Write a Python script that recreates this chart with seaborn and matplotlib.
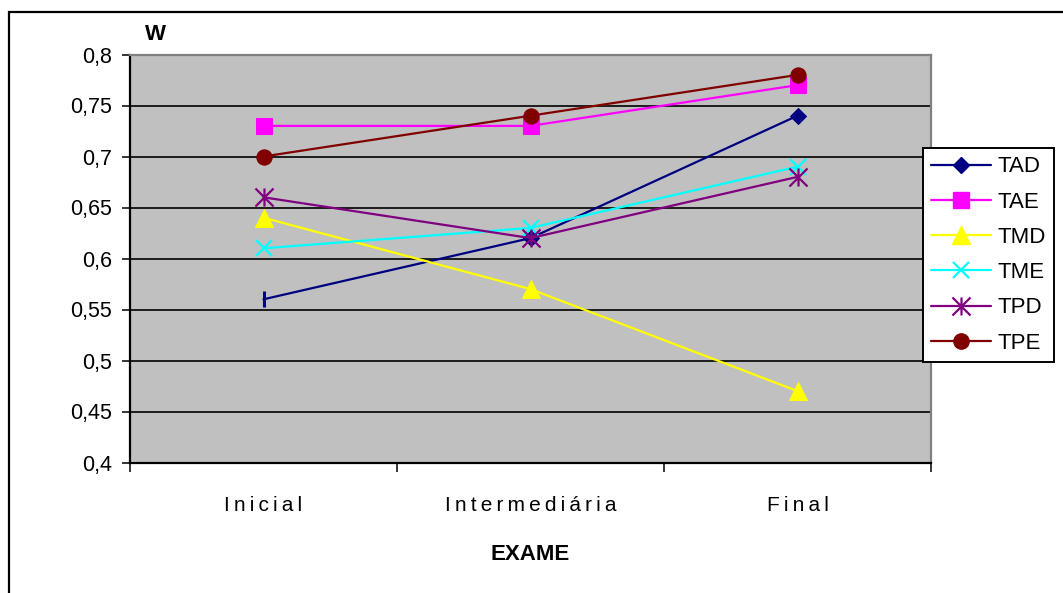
import matplotlib
matplotlib.use("Agg")
import matplotlib.pyplot as plt
import seaborn as sns
import numpy as np
from matplotlib.path import Path
from matplotlib.patches import Rectangle

# --- data -------------------------------------------------------------
exames = ["Inicial", "Intermediária", "Final"]
tad = [0.56, 0.62, 0.74]
tae = [0.73, 0.73, 0.77]
tmd = [0.64, 0.57, 0.47]
tme = [0.61, 0.63, 0.69]
tpd = [0.66, 0.62, 0.68]
tpe = [0.70, 0.74, 0.78]
series_names = ["TAD", "TAE", "TMD", "TME", "TPD", "TPE"]
y_ticks = [0.4, 0.45, 0.5, 0.55, 0.6, 0.65, 0.7, 0.75, 0.8]
y_tick_labels = ["0,4", "0,45", "0,5", "0,55", "0,6", "0,65", "0,7", "0,75", "0,8"]

# --- style ------------------------------------------------------------
sns.set_theme(style="white")
plt.rcParams["font.family"] = ["Liberation Sans", "DejaVu Sans"]
for key in ("text.color", "axes.labelcolor", "xtick.color", "ytick.color",
            "xtick.labelcolor", "ytick.labelcolor"):
    plt.rcParams[key] = "black"

W, H = 1063, 593
fig = plt.figure(figsize=(W / 100, H / 100), dpi=100)
fig.patch.set_facecolor("white")

# chart frame (runs off the right and bottom edges)
fig.patches.append(Rectangle((9 / W, -0.2), 2.0, 1 - 12 / H + 0.2,
                             transform=fig.transFigure, fill=False,
                             edgecolor="black", linewidth=1.6, zorder=0))

ax = fig.add_axes([130 / W, 1 - 462.5 / H, (931 - 130) / W, (462.5 - 54.5) / H])
ax.set_facecolor("#C0C0C0")

# horizontal gridlines (black), none on the top edge
for yv in y_ticks[1:-1]:
    ax.axhline(yv, color="black", linewidth=1.2, zorder=1)

star = Path([(-0.5, -0.5), (0.5, 0.5), (-0.5, 0.5), (0.5, -0.5), (0, -0.5), (0, 0.5)],
            [Path.MOVETO, Path.LINETO, Path.MOVETO, Path.LINETO, Path.MOVETO, Path.LINETO])

styles = {
    "TAD": dict(color="#000080", marker="D", markersize=8),
    "TAE": dict(color="#FF00FF", marker="s", markersize=12),
    "TMD": dict(color="#FFFF00", marker="^", markersize=13),
    "TME": dict(color="#00FFFF", marker="x", markersize=12, markeredgewidth=1.6),
    "TPD": dict(color="#800080", marker=star, markersize=13, markeredgewidth=1.6,
                markerfacecolor="none"),
    "TPE": dict(color="#800000", marker="o", markersize=11),
}
values = dict(zip(series_names, [tad, tae, tmd, tme, tpd, tpe]))
xpos = np.arange(len(exames))

handles = []
for name in series_names:
    st = styles[name]
    if name == "TAD":
        # first point drawn as a short vertical tick
        sns.lineplot(x=xpos, y=values[name], ax=ax, sort=False, color=st["color"],
                     linewidth=1.6, marker=st["marker"], markersize=st["markersize"],
                     markeredgecolor=st["color"], markevery=[1, 2], zorder=3)
        ax.plot(xpos[:1], values[name][:1], linestyle="none", marker="|",
                markersize=12, markeredgewidth=2.2, color=st["color"], zorder=3)
    else:
        sns.lineplot(x=xpos, y=values[name], ax=ax, sort=False, linewidth=1.6,
                     zorder=3, markeredgecolor=st["color"], **st)
    handles.append(plt.Line2D([], [], linewidth=1.6, markeredgecolor=st["color"], **st))

ax.set_xlim(-0.5, 2.5)
ax.set_ylim(0.4, 0.8)

# axis spines
for side in ("left", "bottom"):
    ax.spines[side].set_color("black")
    ax.spines[side].set_linewidth(1.6)
for side in ("top", "right"):
    ax.spines[side].set_color("#808080")
    ax.spines[side].set_linewidth(1.6)

ax.set_yticks(y_ticks)
ax.set_yticklabels(y_tick_labels, fontsize=15.5)
ax.tick_params(axis="y", direction="out", length=6, width=1.1, color="black",
               pad=7, left=True)

# category boundaries carry the tick marks, centres carry the labels
ax.set_xticks([-0.5, 0.5, 1.5, 2.5])
ax.set_xticklabels([])
ax.tick_params(axis="x", which="major", direction="out", length=6.5, width=1.1,
               color="black", bottom=True)
ax.set_xticks(xpos, minor=True)
ax.set_xticklabels(["\u2009".join(s) for s in exames], minor=True, fontsize=15)
ax.tick_params(axis="x", which="minor", length=0, pad=24)
ax.set_xlabel("")
ax.set_ylabel("")

fig.text(155 / W, 1 - 35 / H, "W", fontsize=16, fontweight="bold",
         ha="center", va="center")
fig.text(530.5 / W, 1 - 554 / H, "EXAME", fontsize=16, fontweight="bold",
         ha="center", va="center")

leg = fig.legend(handles, series_names, loc="upper left",
                 bbox_to_anchor=(923 / W, 1 - 148 / H), borderaxespad=0,
                 fontsize=16, frameon=True, fancybox=False, framealpha=1,
                 edgecolor="black", handlelength=2.7, handletextpad=0.25,
                 labelspacing=0.64, borderpad=0.38)
leg.get_frame().set_linewidth(1.4)

fig.savefig("out.png", dpi=100, facecolor="white")
